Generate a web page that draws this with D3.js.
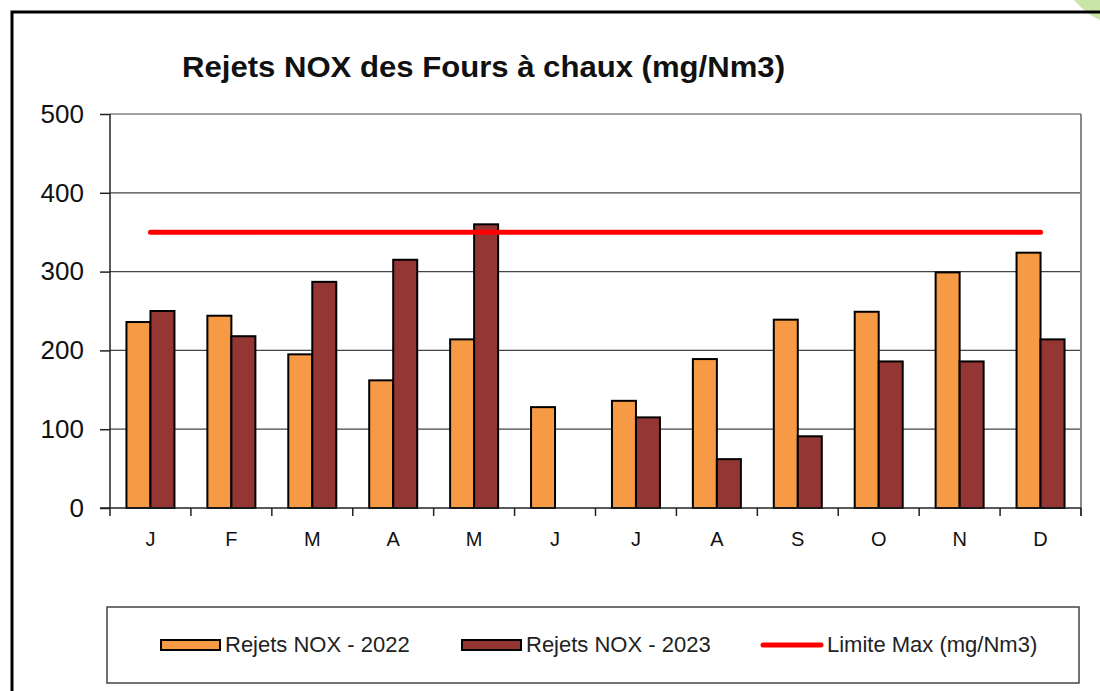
<!DOCTYPE html>
<html>
<head>
<meta charset="utf-8">
<script src="https://cdn.jsdelivr.net/npm/d3@7"></script>
<style>
  body { margin: 0; background: #fff; }
  svg { display: block; font-family: "Liberation Sans", Arial, sans-serif; }
</style>
</head>
<body>
<div id="chart"></div>
<script>
// data
const months = ["J", "F", "M", "A", "M", "J", "J", "A", "S", "O", "N", "D"];
const nox2022 = [236, 244, 195, 162, 214, 128, 136, 189, 239, 249, 299, 324];
const nox2023 = [250, 218, 287, 315, 360, null, 115, 62, 91, 186, 186, 214];
const limitMax = 350;
const yTicks = [0, 100, 200, 300, 400, 500];
const seriesNames = ["Rejets NOX - 2022", "Rejets NOX - 2023", "Limite Max (mg/Nm3)"];

const width = 1100, height = 691;
const colors = {y2022: "#f79a45", y2023: "#943634", limit: "#ff0000"};

const svg = d3.select("#chart").append("svg")
    .attr("width", width)
    .attr("height", height);

// outer frame + green corner
svg.append("path")
    .attr("d", "M1074,0 Q1086,14 1100,20 L1100,0 Z")
    .attr("fill", "#c9e6a6");
svg.append("path")
    .attr("d", "M12,691 L12,12 L1100,12")
    .attr("fill", "none")
    .attr("stroke", "#000")
    .attr("stroke-width", 3);

const plot = {left: 110, right: 1081, top: 114, bottom: 508};

const x = d3.scaleBand()
    .domain(d3.range(months.length))
    .range([plot.left, plot.right]);

const y = d3.scaleLinear()
    .domain([0, 500])
    .range([plot.bottom, plot.top]);

const barW = 24;

// gridlines
svg.append("g")
    .selectAll("line")
    .data(yTicks.filter(d => d > 0))
    .join("line")
    .attr("x1", plot.left).attr("x2", plot.right)
    .attr("y1", d => y(d)).attr("y2", d => y(d))
    .attr("stroke", "#444")
    .attr("stroke-width", 1.2);

// right border of plot
svg.append("line")
    .attr("x1", plot.right).attr("x2", plot.right)
    .attr("y1", plot.top).attr("y2", plot.bottom + 8)
    .attr("stroke", "#888")
    .attr("stroke-width", 2);

// y axis
const yAxis = svg.append("g")
    .attr("transform", `translate(${plot.left},0)`)
    .call(d3.axisLeft(y).tickValues(yTicks).tickSize(10).tickPadding(16));
yAxis.selectAll("text").attr("font-size", 26).attr("fill", "#111").attr("font-family", "Liberation Sans, Arial");
yAxis.selectAll("line, path").attr("stroke", "#222").attr("stroke-width", 1.5);
yAxis.select(".domain").attr("d", `M0,${plot.top}V${plot.bottom}`);

// bars
const rows = months.map((m, i) => ({i, v22: nox2022[i], v23: nox2023[i]}));
const bars = svg.append("g");
bars.selectAll("rect.b22")
    .data(rows)
    .join("rect")
    .attr("class", "b22")
    .attr("x", d => x(d.i) + x.bandwidth() / 2 - barW)
    .attr("y", d => y(d.v22))
    .attr("width", barW)
    .attr("height", d => y(0) - y(d.v22))
    .attr("fill", colors.y2022)
    .attr("stroke", "#000")
    .attr("stroke-width", 2);

bars.selectAll("rect.b23")
    .data(rows.filter(d => d.v23 != null))
    .join("rect")
    .attr("class", "b23")
    .attr("x", d => x(d.i) + x.bandwidth() / 2)
    .attr("y", d => y(d.v23))
    .attr("width", barW)
    .attr("height", d => y(0) - y(d.v23))
    .attr("fill", colors.y2023)
    .attr("stroke", "#000")
    .attr("stroke-width", 2);

// x axis
const xAxisG = svg.append("g").attr("transform", `translate(0,${plot.bottom})`);
xAxisG.append("line")
    .attr("x1", plot.left - 10).attr("x2", plot.right)
    .attr("stroke", "#222").attr("stroke-width", 1.5);
xAxisG.selectAll("line.tick")
    .data(d3.range(months.length + 1))
    .join("line")
    .attr("class", "tick")
    .attr("x1", i => plot.left + i * x.step())
    .attr("x2", i => plot.left + i * x.step())
    .attr("y1", 0).attr("y2", 8)
    .attr("stroke", "#222").attr("stroke-width", 1.5);
xAxisG.selectAll("text")
    .data(months)
    .join("text")
    .attr("x", (d, i) => x(i) + x.bandwidth() / 2)
    .attr("y", 38)
    .attr("text-anchor", "middle")
    .attr("font-size", 20)
    .attr("fill", "#111")
    .text(d => d);

// limit line
svg.append("line")
    .attr("x1", x(0) + x.bandwidth() / 2)
    .attr("x2", x(months.length - 1) + x.bandwidth() / 2)
    .attr("y1", y(limitMax)).attr("y2", y(limitMax))
    .attr("stroke", colors.limit)
    .attr("stroke-width", 5)
    .attr("stroke-linecap", "round");

// title
svg.append("text")
    .attr("x", 182)
    .attr("y", 77)
    .attr("font-size", 29)
    .attr("font-weight", "bold")
    .attr("fill", "#111")
    .attr("textLength", 603)
    .attr("lengthAdjust", "spacingAndGlyphs")
    .text("Rejets NOX des Fours à chaux (mg/Nm3)");

// legend
svg.append("rect")
    .attr("x", 107).attr("y", 607)
    .attr("width", 972).attr("height", 76)
    .attr("fill", "#fff")
    .attr("stroke", "#444")
    .attr("stroke-width", 1.5);

const legendItems = [
    {name: seriesNames[0], x: 161, type: "bar", color: colors.y2022},
    {name: seriesNames[1], x: 462, type: "bar", color: colors.y2023},
    {name: seriesNames[2], x: 763, type: "line", color: colors.limit}
];

const lg = svg.append("g").selectAll("g")
    .data(legendItems)
    .join("g")
    .attr("transform", d => `translate(${d.x},645)`);

lg.filter(d => d.type === "bar").append("rect")
    .attr("x", 0).attr("y", -5)
    .attr("width", 59).attr("height", 10)
    .attr("fill", d => d.color)
    .attr("stroke", "#000")
    .attr("stroke-width", 2);

lg.filter(d => d.type === "line").append("line")
    .attr("x1", 0).attr("x2", 58)
    .attr("stroke", d => d.color)
    .attr("stroke-width", 5)
    .attr("stroke-linecap", "round");

lg.append("text")
    .attr("x", 64)
    .attr("y", 7)
    .attr("font-size", 22)
    .attr("fill", "#222")
    .text(d => d.name);
</script>
</body>
</html>
